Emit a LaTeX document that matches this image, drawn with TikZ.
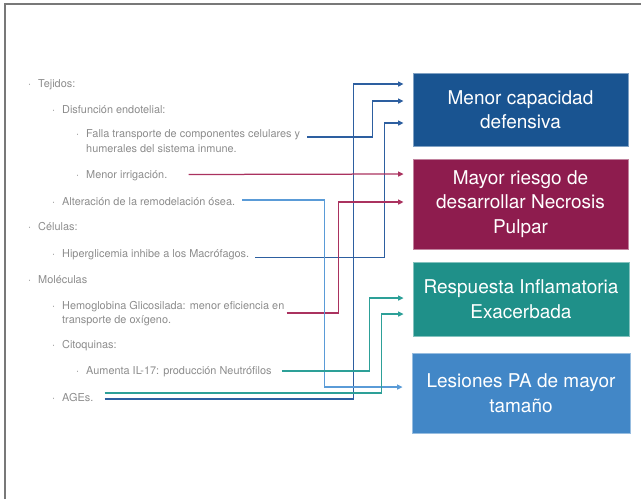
\documentclass[tikz,border=0pt]{standalone}
\usepackage{fontspec}
\setmainfont{TeX Gyre Heros}
\usetikzlibrary{arrows.meta,positioning}
\definecolor{textgrey}{RGB}{140,140,140}
\definecolor{framegrey}{RGB}{120,120,120}
\definecolor{defblue}{RGB}{25,84,145}
\definecolor{necred}{RGB}{142,28,78}
\definecolor{inflteal}{RGB}{31,144,137}
\definecolor{lesblue}{RGB}{66,135,199}
\definecolor{darkline}{RGB}{45,95,160}
\definecolor{redline}{RGB}{170,50,95}
\definecolor{tealline}{RGB}{45,160,152}
\definecolor{lightline}{RGB}{90,155,215}
\newcommand{\bul}{\makebox[10pt][l]{\textperiodcentered}}

\begin{document}
\begin{tikzpicture}[x=1pt, y=-1pt]
\tikzset{
    itemtext/.style={anchor=base west, inner sep=0pt, text=textgrey, font=\fontsize{10.9}{12}\selectfont},
    outcome/.style={rectangle, text=white, align=center, inner sep=0pt, line width=0.8pt,
        font=\fontsize{19}{24.5}\selectfont},
    link/.style={line width=1.25pt, -{Triangle[length=5.5pt,width=5pt]}}
}
\useasboundingbox (0,0) rectangle (641,499);

% frame
\draw[framegrey, line width=1.5pt] (5,499) -- (5,4) -- (641,4);

% left list
\node[itemtext] (tejidos) at (28,87) {\bul Tejidos:};
\node[itemtext] (disfuncion) at (52,113.5) {\bul Disfunción endotelial:};
\node[itemtext] (falla) at (76,137.5) {\bul Falla transporte de componentes celulares y};
\node[itemtext] (fallaB) at (86,152) {humerales del sistema inmune.};
\node[itemtext] (irrigacion) at (76,178.5) {\bul Menor irrigación.};
\node[itemtext] (remodelacion) at (52,205) {\bul Alteración de la remodelación ósea.};
\node[itemtext] (celulas) at (28,230) {\bul Células:};
\node[itemtext] (hiperglicemia) at (52,257) {\bul Hiperglicemia inhibe a los Macrófagos.};
\node[itemtext] (moleculas) at (28,283) {\bul Moléculas};
\node[itemtext] (hemoglobina) at (52,309.5) {\bul Hemoglobina Glicosilada: menor eficiencia en};
\node[itemtext] (hemoglobinaB) at (62,323) {transporte de oxígeno.};
\node[itemtext] (citoquinas) at (52,348.5) {\bul Citoquinas:};
\node[itemtext] (il) at (76,374.5) {\bul Aumenta IL-17: producción Neutrófilos};
\node[itemtext] (ages) at (52,401) {\bul AGEs.};

% outcome boxes
\node[outcome, fill=defblue, draw=defblue!55!white, minimum width=215pt, minimum height=73pt]
    (defensa) at (520.5,109.5) {Menor capacidad\\defensiva};
\node[outcome, fill=necred, draw=necred!55!white, minimum width=215pt, minimum height=90pt]
    (necrosis) at (520.5,204) {Mayor riesgo de\\desarrollar Necrosis\\Pulpar};
\node[outcome, fill=inflteal, draw=inflteal!55!white, minimum width=216pt, minimum height=74pt]
    (inflamacion) at (521,299) {Respuesta Inflamatoria\\Exacerbada};
\node[outcome, fill=lesblue, draw=lesblue!55!white, minimum width=218pt, minimum height=80pt]
    (lesiones) at (521,393) {Lesiones PA de mayor\\tamaño};

% connectors
\draw[link, darkline] ([xshift=7pt,yshift=0.5pt]falla.base east)
    -| ([xshift=-40pt,yshift=8.5pt]defensa.west) -- ([xshift=-9pt,yshift=8.5pt]defensa.west);
\draw[link, darkline] ([xshift=11pt,yshift=2pt]ages.base east)
    -| ([xshift=-59pt,yshift=25.5pt]defensa.west) -- ([xshift=-9pt,yshift=25.5pt]defensa.west);
\draw[link, darkline] ([xshift=6pt,yshift=-0.5pt]hiperglicemia.base east)
    -| ([xshift=-28pt,yshift=-13.5pt]defensa.west) -- ([xshift=-9pt,yshift=-13.5pt]defensa.west);
\draw[link, redline] ([xshift=21pt,yshift=4pt]irrigacion.base east)
    -- ([xshift=-9pt,yshift=30pt]necrosis.west);
\draw[link, redline] ([xshift=2pt,yshift=-3.5pt]hemoglobina.base east)
    -| ([xshift=-74pt,yshift=2pt]necrosis.west) -- ([xshift=-9pt,yshift=2pt]necrosis.west);
\draw[link, lightline] ([xshift=7pt,yshift=5pt]remodelacion.base east)
    -| ([xshift=-87pt,yshift=6pt]lesiones.west) -- ([xshift=-9pt,yshift=6pt]lesiones.west);
\draw[link, tealline] ([xshift=10pt,yshift=3.5pt]il.base east)
    -| ([xshift=-43pt,yshift=1pt]inflamacion.west) -- ([xshift=-9pt,yshift=1pt]inflamacion.west);
\draw[link, tealline] ([xshift=11pt,yshift=8pt]ages.base east)
    -| ([xshift=-31pt,yshift=-15pt]inflamacion.west) -- ([xshift=-9pt,yshift=-15pt]inflamacion.west);

\end{tikzpicture}
\end{document}
